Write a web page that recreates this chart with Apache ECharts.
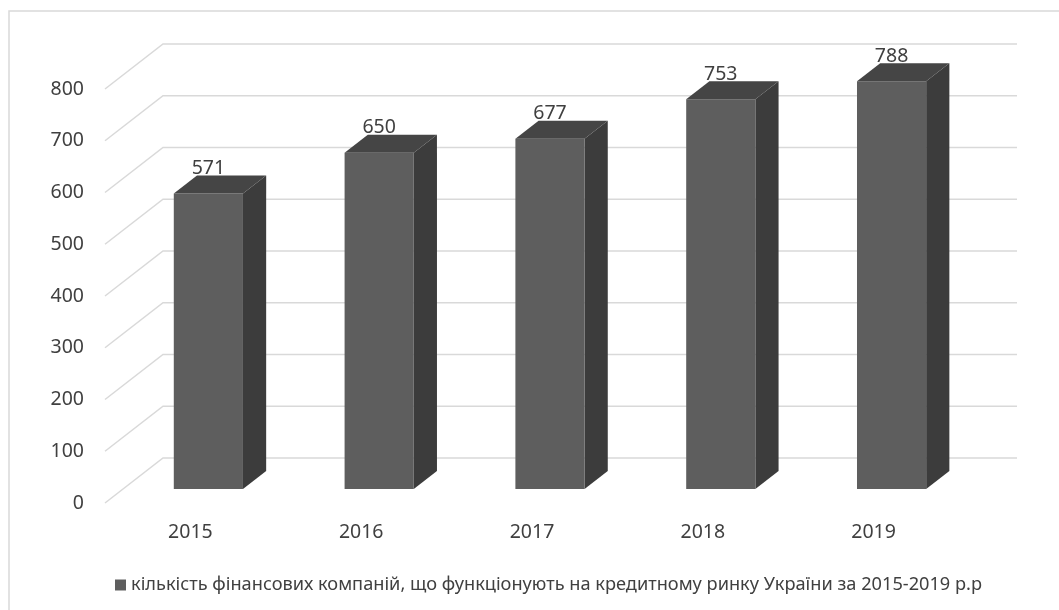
<!DOCTYPE html>
<html>
<head>
<meta charset="utf-8">
<script src="https://cdn.jsdelivr.net/npm/echarts@6/dist/echarts.min.js"></script>
<style>
  html, body { margin: 0; padding: 0; background: #ffffff; }
  #chart { width: 1059px; height: 610px; }
</style>
</head>
<body>
<div id="chart"></div>
<script>
// Number of financial companies per year
const categories = ['2015', '2016', '2017', '2018', '2019'];
const companies = [571, 650, 677, 753, 788];
const valueTicks = [0, 100, 200, 300, 400, 500, 600, 700, 800];
const seriesName = 'кількість фінансових компаній, що функціонують на кредитному ринку України за 2015-2019 р.р';

// Pseudo-3D depth: offset of the back wall relative to the front plane
const DEPTH_X = 58;
const DEPTH_Y = -45;
const BAR_FRONT = 0.31;   // bar front face position within the depth
const BAR_BACK = 0.71;    // bar back face position within the depth
const BAR_RATIO = 0.405;  // bar width as share of the category band

const FONT = 'Noto Sans, Open Sans, sans-serif';
const TEXT_COLOR = '#404040';
const LABEL_SIZE = 19.5;

const chart = echarts.init(document.getElementById('chart'), null, { renderer: 'canvas' });

function renderGridLine(params, api) {
  const v = api.value(1);
  const p = api.coord([0, v]);
  const x0 = params.coordSys.x;
  const x1 = x0 + params.coordSys.width;
  const y = p[1];
  return {
    type: 'polyline',
    shape: { points: [[x0, y], [x0 + DEPTH_X, y + DEPTH_Y], [x1 + DEPTH_X, y + DEPTH_Y]] },
    style: { stroke: '#d9d9d9', lineWidth: 1.5, fill: null }
  };
}

function renderBar(params, api) {
  const idx = api.value(0);
  const val = api.value(1);
  const top = api.coord([idx, val]);
  const base = api.coord([idx, 0]);
  const band = api.size([1, 0])[0];
  const w = band * BAR_RATIO;
  const fx = top[0] + DEPTH_X * BAR_FRONT;
  const yTop = top[1] + DEPTH_Y * BAR_FRONT;
  const yBase = base[1] + DEPTH_Y * BAR_FRONT;
  const left = fx - w / 2;
  const right = fx + w / 2;
  const dx = DEPTH_X * (BAR_BACK - BAR_FRONT);
  const dy = DEPTH_Y * (BAR_BACK - BAR_FRONT);
  return {
    type: 'group',
    children: [
      {
        type: 'polygon',
        shape: { points: [[right, yTop], [right + dx, yTop + dy], [right + dx, yBase + dy], [right, yBase]] },
        style: { fill: '#3c3c3c' }
      },
      {
        type: 'rect',
        shape: { x: left, y: yTop, width: w, height: yBase - yTop },
        style: { fill: '#5e5e5e' }
      },
      {
        type: 'polygon',
        shape: { points: [[left, yTop], [right, yTop], [right + dx, yTop + dy], [left + dx, yTop + dy]] },
        style: { fill: '#454545' }
      },
      {
        type: 'text',
        style: {
          text: String(val),
          x: fx,
          y: yTop + dy + 3,
          align: 'center',
          verticalAlign: 'bottom',
          fontSize: LABEL_SIZE,
          fontFamily: FONT,
          fill: TEXT_COLOR
        }
      }
    ]
  };
}

const option = {
  backgroundColor: '#ffffff',
  animation: false,
  grid: { left: 105, right: 100, top: 89, bottom: 107, containLabel: false },
  xAxis: {
    type: 'category',
    data: categories,
    axisLine: { show: false },
    axisTick: { show: false },
    splitLine: { show: false },
    axisLabel: { margin: 19, fontSize: LABEL_SIZE, fontFamily: FONT, color: TEXT_COLOR }
  },
  yAxis: {
    type: 'value',
    min: 0,
    max: 800,
    interval: 100,
    axisLine: { show: false },
    axisTick: { show: false },
    splitLine: { show: false },
    axisLabel: { margin: 21, fontSize: LABEL_SIZE, fontFamily: FONT, color: TEXT_COLOR }
  },
  legend: {
    data: [{ name: seriesName, icon: 'rect' }],
    left: 110,
    top: 571,
    itemWidth: 11,
    itemHeight: 11,
    itemGap: 5,
    textStyle: { fontSize: 18.2, fontFamily: FONT, color: TEXT_COLOR }
  },
  graphic: [
    {
      type: 'rect',
      shape: { x: 9, y: 11, width: 1200, height: 800 },
      style: { fill: null, stroke: '#d9d9d9', lineWidth: 1.5 },
      silent: true
    }
  ],
  series: [
    {
      name: 'gridlines',
      type: 'custom',
      z: 1,
      silent: true,
      renderItem: renderGridLine,
      encode: { x: 0, y: 1 },
      data: valueTicks.map(v => [0, v])
    },
    {
      name: seriesName,
      type: 'custom',
      z: 2,
      itemStyle: { color: '#5e5e5e' },
      renderItem: renderBar,
      encode: { x: 0, y: 1 },
      data: companies.map((v, i) => [i, v])
    }
  ]
};

chart.setOption(option);
</script>
</body>
</html>
